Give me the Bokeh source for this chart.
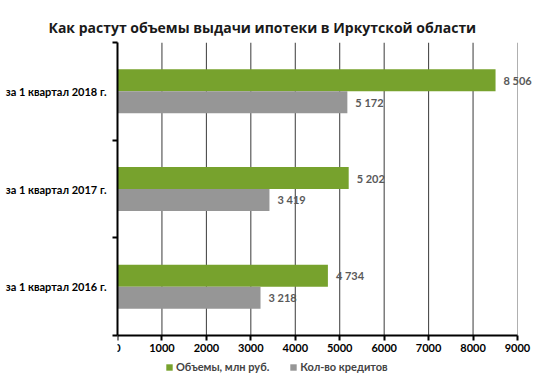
from bokeh.plotting import figure
from bokeh.models import (Range1d, FixedTicker, ColumnDataSource, Legend, LegendItem,
                          Title, NumeralTickFormatter, LabelSet)
from bokeh.core.properties import value
from bokeh.embed import file_html
from bokeh.resources import INLINE

categories = ["за 1 квартал 2016 г.", "за 1 квартал 2017 г.", "за 1 квартал 2018 г."]
volumes = [4734, 5202, 8506]          # Объемы, млн руб.
counts = [3218, 3419, 5172]           # Кол-во кредитов
series_names = ["Объемы, млн руб.", "Кол-во кредитов"]
x_ticks = [0, 1000, 2000, 3000, 4000, 5000, 6000, 7000, 8000, 9000]

GREEN = "#77a22d"
GRAY = "#969696"
FONT = "Lato"
TFONT = "Open Sans"
BAR_H = 0.225
X_MAX = x_ticks[-1]
PLOT_W, PLOT_H = 400, 293        # pixel size of the data area (0..9000, 0..3)
EXTRA_R, EXTRA_B = 23, 44        # room right of / below the data area inside the frame
N = len(categories)
X_VIEW = X_MAX * (PLOT_W + EXTRA_R) / PLOT_W
Y_START = -N * EXTRA_B / PLOT_H

def fmt(v):
    return f"{v:,}".replace(",", " ")

centers = [i + 0.5 for i in range(N)]
src_v = ColumnDataSource(dict(y=[c + BAR_H / 2 for c in centers], x=volumes,
                              lbl=[fmt(v) for v in volumes]))
src_c = ColumnDataSource(dict(y=[c - BAR_H / 2 for c in centers], x=counts,
                              lbl=[fmt(v) for v in counts]))

p = figure(frame_width=PLOT_W + EXTRA_R, frame_height=PLOT_H + EXTRA_B,
           output_backend="svg", toolbar_location=None,
           x_range=Range1d(0, X_VIEW), y_range=Range1d(Y_START, N),
           min_border_left=117, min_border_right=0, min_border_top=42, min_border_bottom=0)
p.outline_line_color = None
p.background_fill_color = "white"
p.border_fill_color = "white"

# vertical grid lines (only over the data area)
p.segment(x0=x_ticks[1:-1], y0=0, x1=x_ticks[1:-1], y1=N, line_color="#3a3a3a", line_width=1)
p.segment(x0=[X_MAX], y0=0, x1=[X_MAX], y1=N, line_color="#b0b0b0", line_width=1)

r1 = p.hbar(y="y", right="x", left=0, height=BAR_H, source=src_v, color=GREEN, line_color=None)
r2 = p.hbar(y="y", right="x", left=0, height=BAR_H, source=src_c, color=GRAY, line_color=None)

for src in (src_v, src_c):
    p.add_layout(LabelSet(x="x", y="y", text="lbl", source=src, x_offset=8,
                          text_baseline="middle", text_font=value(FONT), text_font_size="11px",
                          text_font_style="bold", text_color="#595959"))

# axes
p.xaxis.ticker = FixedTicker(ticks=x_ticks)
p.xaxis.bounds = (0, X_MAX)
p.xaxis.fixed_location = 0
p.xaxis.formatter = NumeralTickFormatter(format="0")
p.yaxis.ticker = FixedTicker(ticks=centers, minor_ticks=list(range(N + 1)))
p.yaxis.bounds = (0, N)
p.yaxis.major_label_overrides = {c: cat for c, cat in zip(centers, categories)}
for ax in (p.xaxis[0], p.yaxis[0]):
    ax.axis_line_color = "black"
    ax.axis_line_width = 2
    ax.major_label_text_font = FONT
    ax.major_label_text_font_size = "11px"
    ax.major_label_text_font_style = "bold"
    ax.major_label_text_color = "black"
p.xaxis.major_tick_out = 5
p.xaxis.major_tick_in = 0
p.xaxis.major_tick_line_width = 2
p.xaxis.minor_tick_line_color = None
p.xaxis.major_label_standoff = 3
p.yaxis.major_tick_out = 0
p.yaxis.major_tick_in = 0
p.yaxis.minor_tick_out = 5
p.yaxis.minor_tick_in = 0
p.yaxis.minor_tick_line_width = 2
p.yaxis.minor_tick_line_color = "black"
p.yaxis.major_label_standoff = 6

p.xgrid.grid_line_color = None
p.ygrid.grid_line_color = None

legend = Legend(items=[LegendItem(label=series_names[0], renderers=[r1]),
                       LegendItem(label=series_names[1], renderers=[r2])],
                orientation="horizontal", location=(48, 6),
                label_text_font=FONT, label_text_font_size="11px", label_text_font_style="bold",
                glyph_width=8, glyph_height=8, label_standoff=3, spacing=20,
                border_line_color=None, background_fill_alpha=0, padding=0, margin=0,
                label_height=12)
p.add_layout(legend, "center")

p.title = Title(text="Как растут объемы выдачи ипотеки в Иркутской области",
                text_font=TFONT, text_font_size="14px", text_font_style="bold",
                align="left", offset=-69, vertical_align="middle", text_color="#1a1a1a")

open("out.html", "w").write(file_html(p, INLINE))
